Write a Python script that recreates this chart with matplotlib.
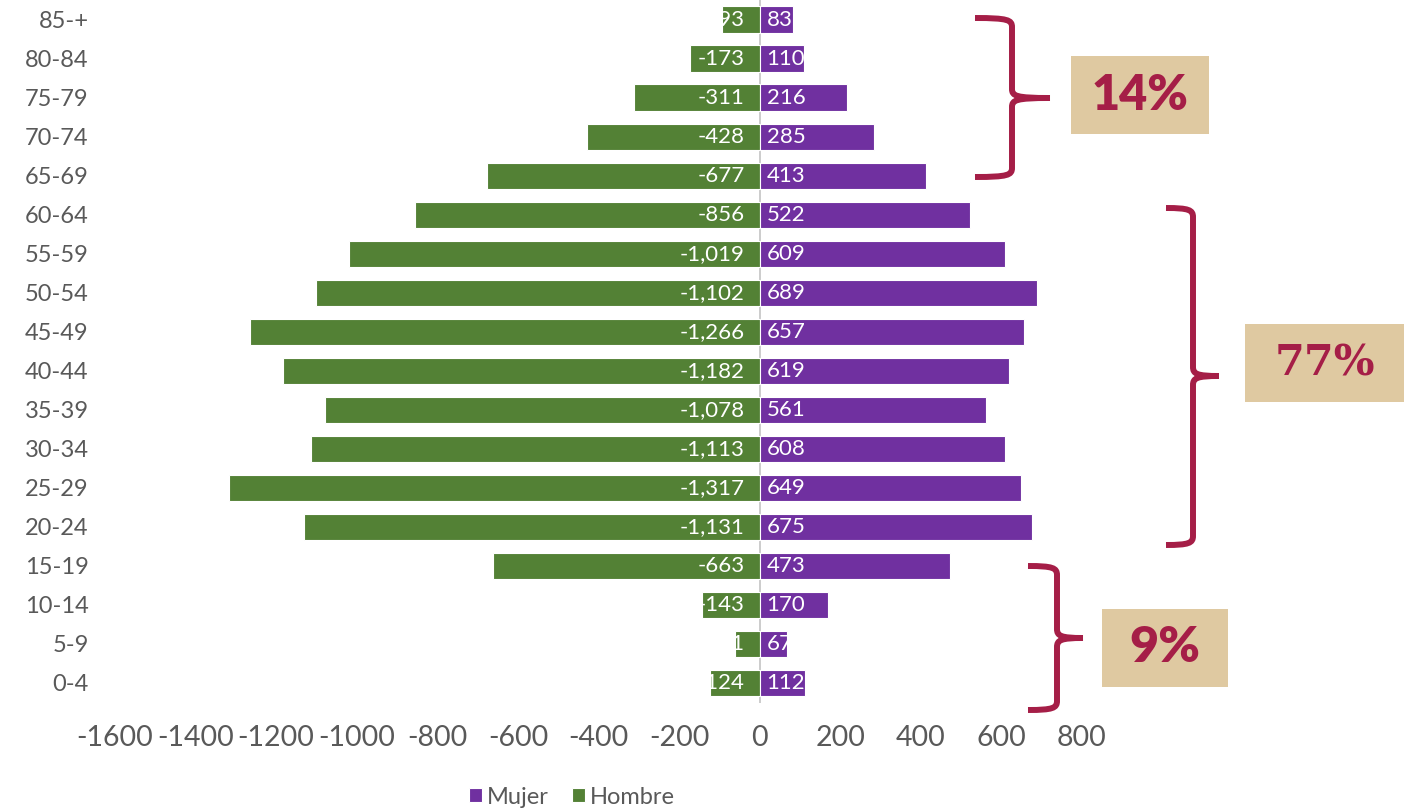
import matplotlib
matplotlib.use("Agg")
import matplotlib.pyplot as plt
from matplotlib.path import Path
from matplotlib.patches import PathPatch, Rectangle
import numpy as np

plt.rcParams['font.family'] = ['Lato', 'DejaVu Sans']

# ---- data ----
grupos = ["85-+", "80-84", "75-79", "70-74", "65-69", "60-64", "55-59", "50-54",
          "45-49", "40-44", "35-39", "30-34", "25-29", "20-24", "15-19", "10-14",
          "5-9", "0-4"]
hombre = [-93, -173, -311, -428, -677, -856, -1019, -1102, -1266, -1182, -1078,
          -1113, -1317, -1131, -663, -143, -61, -124]
mujer = [83, 110, 216, 285, 413, 522, 609, 689, 657, 619, 561, 608, 649, 675,
         473, 170, 67, 112]
xticks = list(range(-1600, 801, 200))
pct_labels = ["14%", "77%", "9%"]

GREEN = "#538135"
PURPLE = "#7030A0"
MAROON = "#A51E47"
TAN = "#DFC9A1"
GRAY = "#595959"

W, H = 1412, 810
fig = plt.figure(figsize=(W / 100, H / 100), dpi=100)

def fx(x):
    return x / W

def fy(y):
    return 1 - y / H

ax = fig.add_axes([fx(115), fy(702.5), fx(1082) - fx(115), fy(0) - fy(702.5)])

y = np.arange(len(grupos))
ax.barh(y, hombre, height=0.67, color=GREEN, edgecolor="white", linewidth=0.8,
        label="Hombre", zorder=2)
ax.barh(y, mujer, height=0.67, color=PURPLE, edgecolor="white", linewidth=0.8,
        label="Mujer", zorder=2)
ax.axvline(0, color="#C8C8C8", lw=1.3, zorder=1)

for i, (h, m) in enumerate(zip(hombre, mujer)):
    ax.annotate("{:,}".format(h), xy=(0, i), xytext=(-11, 0), textcoords="offset points",
                ha="right", va="center", color="white", fontsize=16, zorder=4)
    ax.annotate("{:,}".format(m), xy=(0, i), xytext=(5, 0), textcoords="offset points",
                ha="left", va="center", color="white", fontsize=16, zorder=4)

ax.set_ylim(len(grupos) - 0.5, -0.5)
ax.set_xlim(-1600, 800)
ax.set_yticks(y)
ax.set_yticklabels(grupos)
ax.set_xticks(xticks)
ax.set_xticklabels([str(t) for t in xticks])
ax.tick_params(axis="y", length=0, pad=19, labelsize=17, labelcolor=GRAY)
ax.tick_params(axis="x", length=0, pad=16, labelsize=20.5, labelcolor=GRAY)
for s in ax.spines.values():
    s.set_visible(False)

handles, labels = ax.get_legend_handles_labels()
order = [1, 0]
fig.legend([handles[k] for k in order], [labels[k] for k in order],
           loc="center", bbox_to_anchor=(fx(572), fy(797)), ncol=2, frameon=False,
           fontsize=17, labelcolor=GRAY, handlelength=0.55, handleheight=0.55,
           handletextpad=0.2, columnspacing=1.0)

# ---- braces (pixel coords, y down) ----
def brace(x0, xv, xt, yt, ym, yb, r=9):
    P = lambda x, yy: (fx(x), fy(yy))
    verts = [P(x0, yt), P(xv - 4, yt), P(xv, yt + 2), P(xv, yt + r),
             P(xv, ym - r), P(xv, ym - 2), P(xv + 4, ym), P(xt, ym),
             P(xt, ym), P(xv + 4, ym), P(xv, ym + 2), P(xv, ym + r),
             P(xv, yb - r), P(xv, yb - 2), P(xv - 4, yb), P(x0, yb)]
    codes = [Path.MOVETO, Path.CURVE4, Path.CURVE4, Path.CURVE4,
             Path.LINETO, Path.CURVE4, Path.CURVE4, Path.CURVE4,
             Path.MOVETO, Path.CURVE4, Path.CURVE4, Path.CURVE4,
             Path.LINETO, Path.CURVE4, Path.CURVE4, Path.CURVE4]
    patch = PathPatch(Path(verts, codes), transform=fig.transFigure, fill=False,
                      edgecolor=MAROON, lw=4.3, capstyle="butt", joinstyle="round")
    fig.add_artist(patch)

def box(x0, x1, y0, y1, text, family, weight="bold", size=34):
    fig.add_artist(Rectangle((fx(x0), fy(y1)), fx(x1) - fx(x0), fy(y0) - fy(y1),
                             transform=fig.transFigure, facecolor=TAN, edgecolor="none"))
    fig.text(fx((x0 + x1) / 2), fy((y0 + y1) / 2), text, ha="center", va="center",
             color=MAROON, fontsize=size, fontweight=weight, family=family)

brace(975, 1012, 1050, 18, 98, 177)
brace(1166, 1193, 1219, 208, 376, 545)
brace(1028, 1057, 1083, 566, 638, 710)

box(1071, 1209, 56, 134, pct_labels[0], ["Lato", "DejaVu Sans"], "heavy", 35)
box(1245, 1404, 324, 402, pct_labels[1], ["DejaVu Serif"], "bold", 31)
box(1102, 1228, 609, 687, pct_labels[2], ["Lato", "DejaVu Sans"], "heavy", 36)

fig.savefig("out.png", dpi=100, facecolor="white")
